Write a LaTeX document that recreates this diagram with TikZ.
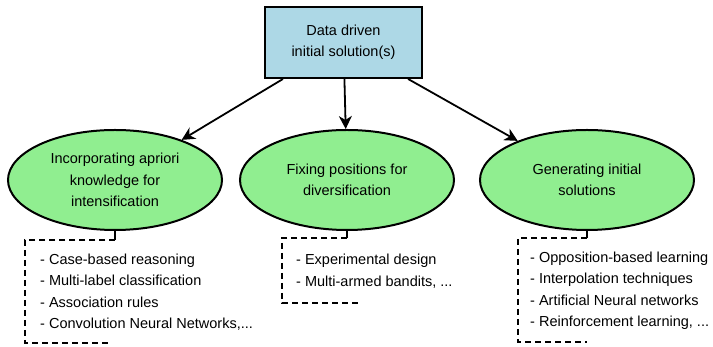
\documentclass[tikz,border=0pt]{standalone}
\usepackage{fontspec}
\setmainfont{Liberation Sans}
\usepackage{tikz}
\usetikzlibrary{arrows.meta}
\usetikzlibrary{shapes,positioning}
\usetikzlibrary{calc}

\definecolor{boxblue}{HTML}{ADD8E6}
\definecolor{ovalgreen}{HTML}{90EE90}

\begin{document}
\begin{tikzpicture}[x=1pt,y=1pt,font=\fontsize{14.5pt}{21.5pt}\selectfont]
\tikzstyle{source}=[draw,rectangle,fill=boxblue,line width=2pt,minimum width=157pt,minimum height=71pt,align=center,inner sep=2pt]
\tikzstyle{oval}=[draw,ellipse,fill=ovalgreen,line width=2pt,minimum width=214pt,minimum height=100pt,align=center,inner sep=0pt]
\tikzstyle{arr}=[line width=1.8pt,-{Stealth[length=13pt,width=13pt,inset=4pt]}]
\tikzstyle{bracket}=[line width=1.8pt,dash pattern=on 6pt off 4pt]
\tikzstyle{items}=[align=left,anchor=west,inner sep=0pt]
\useasboundingbox (0,0) rectangle (713,347);

% top box and the three ovals
\node [source] (data) at (343.5,304.5) {Data driven\\ initial solution(s)};
\node [oval] (prior) at (115,167) {Incorporating apriori\\knowledge for\\intensification};
\node [oval] (fixing) at (347,167) {Fixing positions for\\diversification};
\node [oval] (generate) at (587,167) {Generating initial\\solutions};

\draw [arr] (data) -- (prior);
\draw [arr] (data) -- (fixing);
\draw [arr] (data) -- (generate);

% lists under the ovals
\node [items] (priorlist) at (40,55) {- Case-based reasoning\\- Multi-label classification\\- Association rules\\- Convolution Neural Networks,...};
\node [items] (fixinglist) at (296,76) {- Experimental design\\- Multi-armed bandits, ...};
\node [items] (generatelist) at (530,56) {- Opposition-based learning\\- Interpolation techniques\\- Artificial Neural networks\\- Reinforcement learning, ...};

% dashed brackets
\coordinate (p1) at (115,107);
\draw [line width=1.8pt] (prior.south) -- (p1);
\draw [bracket] (p1) -- (25,107) -- (25,4) -- (110,4);
\coordinate (f1) at (347,109);
\draw [line width=1.8pt] (fixing.south) -- (f1);
\draw [bracket] (f1) -- (282,109) -- (282,44) -- (358,44);
\coordinate (g1) at (587,109);
\draw [line width=1.8pt] (generate.south) -- (g1);
\draw [bracket] (g1) -- (518,109) -- (518,5) -- (587,5);
\end{tikzpicture}
\end{document}
